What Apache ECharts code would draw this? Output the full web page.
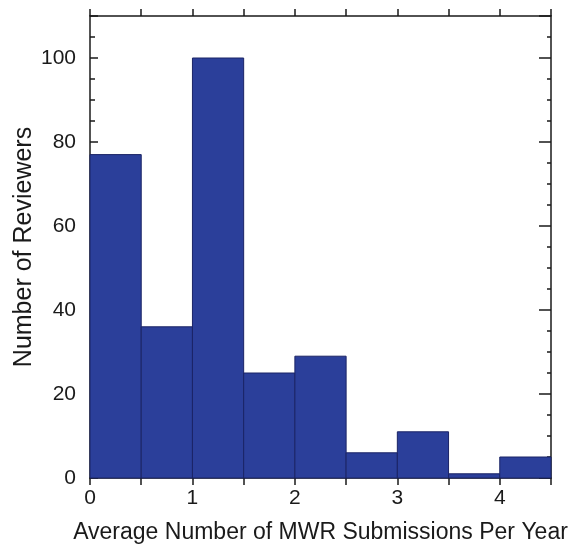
<!DOCTYPE html>
<html><head><meta charset="utf-8">
<script src="https://cdn.jsdelivr.net/npm/echarts@6/dist/echarts.min.js"></script>
<style>html,body{margin:0;padding:0;background:#fff}#c{width:581px;height:547px}</style>
</head><body><div id="c"></div>
<script>
const binStarts = [0, 0.5, 1, 1.5, 2, 2.5, 3, 3.5, 4];
const binWidth = 0.5;
const counts = [77, 36, 100, 25, 29, 6, 11, 1, 5];
const xLabels = ['0', '1', '2', '3', '4'];
const yLabels = ['0', '20', '40', '60', '80', '100'];
const xTitle = 'Average Number of MWR Submissions Per Year';
const yTitle = 'Number of Reviewers';

const chart = echarts.init(document.getElementById('c'), null, {renderer: 'canvas'});
const font = 'Liberation Sans';
const txt = '#1a1a1a';
const axisCol = '#1a1a1a';
const data = binStarts.map((s, i) => [s, s + binWidth, counts[i]]);

const xBase = {
  type: 'value', min: 0, max: 4.5, interval: 0.5,
  axisLine: {show: true, onZero: false, lineStyle: {color: axisCol, width: 1.5}},
  axisTick: {show: true, inside: false, length: 7, lineStyle: {color: axisCol, width: 1.5}},
  splitLine: {show: false}
};
const yBase = {
  type: 'value', min: 0, max: 110, interval: 20,
  axisLine: {show: true, onZero: false, lineStyle: {color: axisCol, width: 1.5}},
  splitLine: {show: false}
};

chart.setOption({
  animation: false,
  grid: {left: 90, right: 30, top: 16, bottom: 69, containLabel: false, outerBoundsMode: 'none'},
  xAxis: [
    Object.assign({}, xBase, {
      position: 'bottom',
      name: xTitle, nameLocation: 'middle', nameGap: 43, nameMoveOverlap: false,
      nameTextStyle: {fontFamily: font, fontSize: 23, color: txt},
      axisLabel: {
        show: true, margin: 10, fontFamily: font, fontSize: 21, color: txt,
        formatter: v => (Math.abs(v - Math.round(v)) < 1e-9 && xLabels.includes(String(Math.round(v)))) ? String(Math.round(v)) : ''
      }
    }),
    Object.assign({}, xBase, {position: 'top', axisLabel: {show: false}})
  ],
  yAxis: [
    Object.assign({}, yBase, {
      position: 'left',
      name: yTitle, nameLocation: 'middle', nameGap: 53, nameMoveOverlap: false,
      nameTextStyle: {fontFamily: font, fontSize: 25, color: txt},
      axisTick: {show: true, inside: true, length: 8, lineStyle: {color: axisCol, width: 1.5}},
      minorTick: {show: true, splitNumber: 4, length: 5, lineStyle: {color: axisCol, width: 1.5}},
      axisLabel: {
        show: true, margin: 14, fontFamily: font, fontSize: 21, color: txt,
        formatter: v => yLabels.includes(String(v)) ? String(v) : ''
      }
    }),
    Object.assign({}, yBase, {
      position: 'right',
      axisTick: {show: true, inside: true, length: 12, lineStyle: {color: axisCol, width: 1.5}},
      minorTick: {show: true, splitNumber: 4, length: 4, lineStyle: {color: axisCol, width: 1.5}},
      axisLabel: {show: false}
    })
  ],
  series: [{
    type: 'custom',
    xAxisIndex: 0, yAxisIndex: 0,
    data: data,
    encode: {x: [0, 1], y: 2},
    renderItem: function (params, api) {
      const p0 = api.coord([api.value(0), 0]);
      const p1 = api.coord([api.value(1), api.value(2)]);
      return {
        type: 'rect',
        shape: {x: p0[0], y: p1[1], width: p1[0] - p0[0], height: p0[1] - p1[1]},
        style: {fill: '#2b3f9a', stroke: '#1b2466', lineWidth: 1}
      };
    },
    z: 1
  }]
});
</script></body></html>
